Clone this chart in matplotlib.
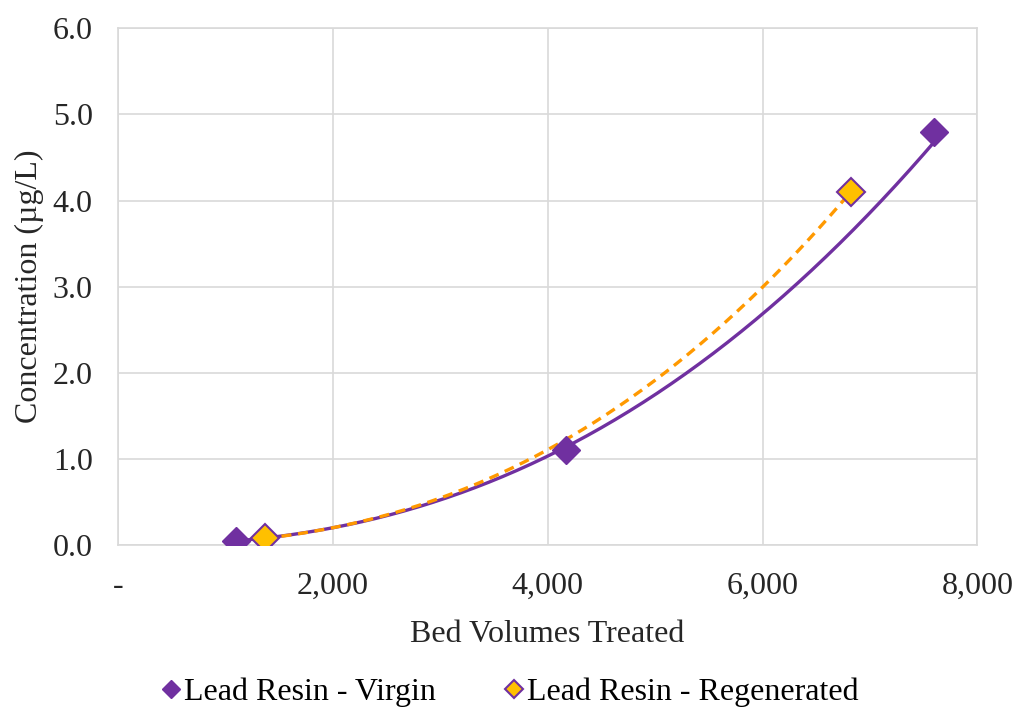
import numpy as np
import matplotlib
matplotlib.use("Agg")
import matplotlib.pyplot as plt
from matplotlib.ticker import FuncFormatter

# data
virgin_bv = [1100, 4170, 7600]
virgin_conc = [0.05, 1.1, 4.8]
regen_bv = [1370, 6820]
regen_conc = [0.08, 4.1]

purple = "#7030A0"
orange = "#FF9900"
gold = "#FFC000"
txt = "#262626"

plt.rcParams['font.family'] = ['Liberation Serif', 'DejaVu Serif']

fig = plt.figure(figsize=(10.15, 7.25), dpi=100)
ax = fig.add_axes([0.116, 0.248, 0.847, 0.713])


def power_fit(x, y):
    # excel style power trendline, fitted in log space
    b, lna = np.polyfit(np.log(x), np.log(y), 1)
    xs = np.linspace(min(x), max(x), 200)
    return xs, np.exp(lna) * xs ** b


xs, ys = power_fit(virgin_bv, virgin_conc)
ax.plot(xs, ys, color=purple, lw=2.4, zorder=3)
xs, ys = power_fit(regen_bv, regen_conc)
ax.plot(xs, ys, color=orange, lw=2.4, ls=(0, (3, 2)), zorder=3)

ax.plot(virgin_bv, virgin_conc, ls="none", marker="D", ms=14, color=purple,
        mec=purple, label="Lead Resin - Virgin", zorder=4)
ax.plot(regen_bv, regen_conc, ls="none", marker="D", ms=14, color=gold,
        mec=purple, mew=1.5, label="Lead Resin - Regenerated", zorder=4)

ax.set_xlim(0, 8000)
ax.set_ylim(0, 6)
ax.set_xticks([0, 2000, 4000, 6000, 8000])
ax.set_yticks(np.arange(0, 6.1, 1.0))
ax.xaxis.set_major_formatter(FuncFormatter(lambda v, p: "-" if v == 0 else f"{v:,.0f}"))
ax.yaxis.set_major_formatter(FuncFormatter(lambda v, p: f"{v:.1f}"))
ax.tick_params(length=0, labelsize=23, colors=txt)
ax.tick_params(axis="x", pad=19)
ax.tick_params(axis="y", pad=18)
ax.grid(True, color="#d9d9d9", lw=1.2)
for s in ax.spines.values():
    s.set_color("#d9d9d9")
    s.set_linewidth(1.2)

ax.set_xlabel("Bed Volumes Treated", fontsize=23, color=txt, labelpad=14)
ax.set_ylabel("Concentration (µg/L)", fontsize=23, color=txt, labelpad=6)

fig.legend(loc="center", bbox_to_anchor=(0.503, 0.045), ncol=2, frameon=False,
           fontsize=23, markerscale=0.65, handlelength=0.5, handletextpad=0.15,
           columnspacing=2.2)

fig.savefig("out.png", dpi=100)
